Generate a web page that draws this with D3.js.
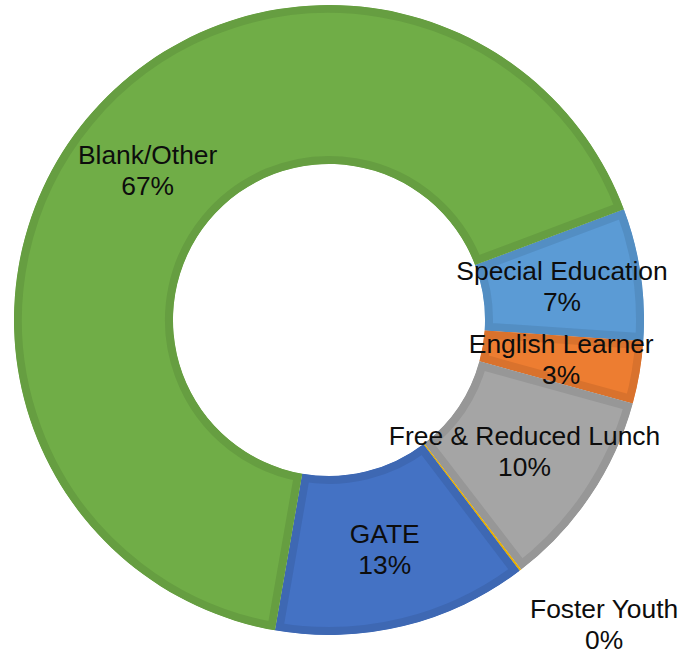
<!DOCTYPE html>
<html>
<head>
<meta charset="utf-8">
<script src="https://cdn.jsdelivr.net/npm/d3@7"></script>
<style>
  body { margin: 0; background: #fff; }
  text { font-family: "Liberation Sans", Arial, sans-serif; fill: #0d0d0d; }
</style>
</head>
<body>
<script>
'use strict';

// slices in drawing order (clockwise, starting at the Special Education edge)
var categories = ["Special Education", "English Learner", "Free & Reduced Lunch", "Foster Youth", "GATE", "Blank/Other"];
var values = [6.8, 3.2, 10.3, 0.1, 13.1, 66.6];
var colors = ["#5B9BD5", "#ED7D31", "#A5A5A5", "#FFC000", "#4472C4", "#70AD47"];
// manual label moves (only Foster Youth was dragged outside)
var labelNudge = [[0, 0], [0, 0], [0, 0], [26, -22], [0, 0], [0, 0]];

var width = 684, height = 655;
var cx = 329, cy = 320;
var outerR = 315, innerR = 156;
var border = 8;
var firstAngle = 69.4; // degrees, clockwise from 12 o'clock

var svg = d3.select("body").append("svg")
    .attr("width", width)
    .attr("height", height);

var g = svg.append("g")
    .attr("transform", "translate(" + cx + "," + cy + ")");

var data = categories.map(function (c, i) {
    return {name: c, value: values[i], color: colors[i], nudge: labelNudge[i]};
});

var start = firstAngle * Math.PI / 180;
var pie = d3.pie()
    .sort(null)
    .value(function (d) { return d.value; })
    .startAngle(start)
    .endAngle(start + 2 * Math.PI);

var arc = d3.arc().innerRadius(innerR).outerRadius(outerR);
var labelArc = d3.arc().innerRadius(innerR).outerRadius(outerR);
var farArc = d3.arc().innerRadius(400).outerRadius(420);

var total = d3.sum(values);
var arcs = pie(data);

var defs = svg.append("defs");
arcs.forEach(function (d, i) {
    defs.append("clipPath")
        .attr("id", "clip" + i)
        .append("path")
        .attr("d", arc(d));
});

g.selectAll(".slice")
    .data(arcs)
    .enter().append("path")
    .attr("class", "slice")
    .attr("d", arc)
    .attr("clip-path", function (d, i) { return "url(#clip" + i + ")"; })
    .attr("fill", function (d) { return d.data.color; })
    .attr("stroke", function (d) { return d3.color(d.data.color).darker(0.25).formatHex(); })
    .attr("stroke-width", border * 2)
    .attr("stroke-linejoin", "miter");

var labels = g.selectAll(".lbl")
    .data(arcs)
    .enter().append("text")
    .attr("class", "lbl")
    .attr("text-anchor", "middle")
    .attr("font-size", "26.4px")
    .attr("transform", function (d) {
        var p = d.data.name === "Foster Youth" ? farArc.centroid(d) : labelArc.centroid(d);
        return "translate(" + (p[0] + d.data.nudge[0]) + "," + (p[1] + d.data.nudge[1]) + ")";
    });

labels.append("tspan")
    .attr("x", 0)
    .attr("y", -6)
    .text(function (d) { return d.data.name; });

labels.append("tspan")
    .attr("x", 0)
    .attr("y", 25)
    .text(function (d) { return Math.round(d.data.value / total * 100) + "%"; });
</script>
</body>
</html>
